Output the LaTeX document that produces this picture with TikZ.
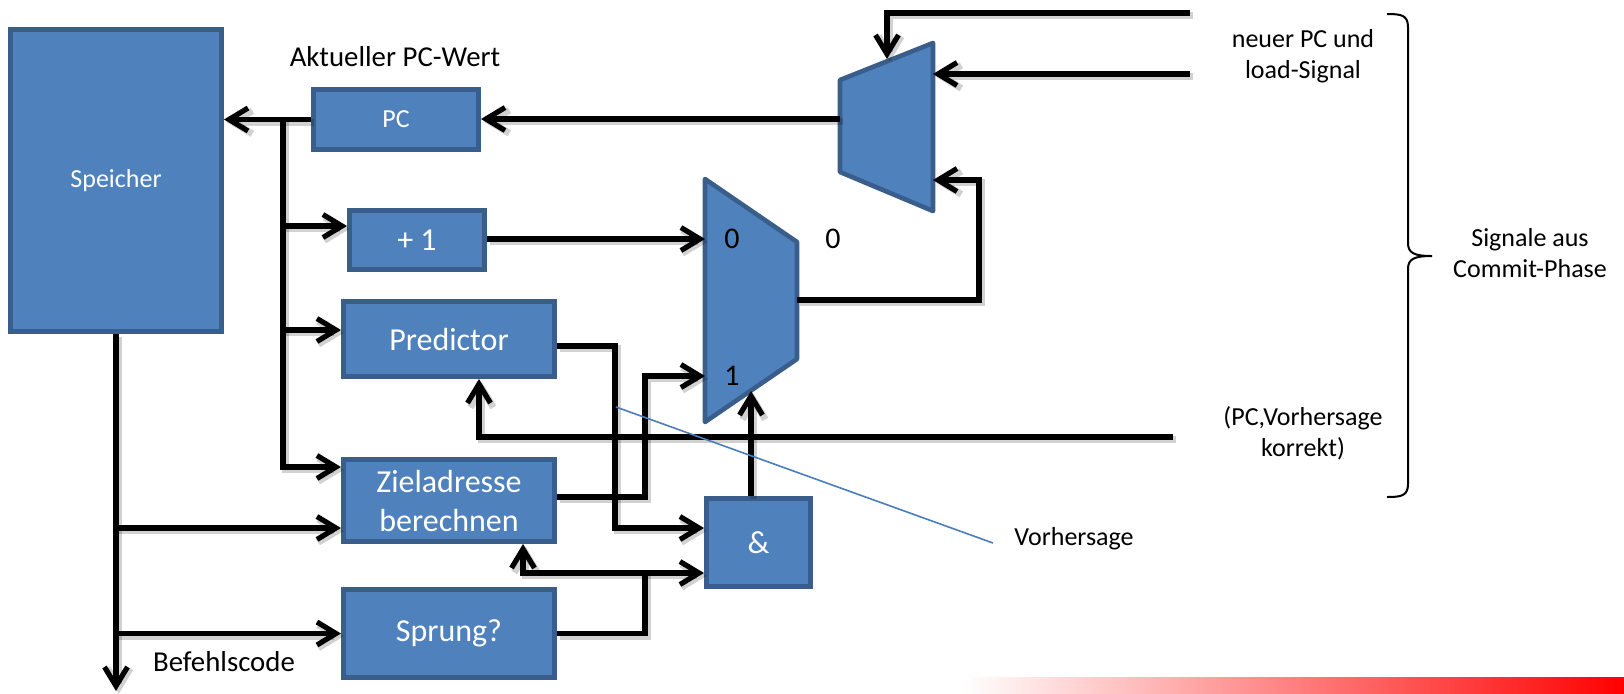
\documentclass[tikz,border=0pt]{standalone}
\usepackage{fontspec}
\setmainfont{Carlito}
\usetikzlibrary{arrows.meta}
\definecolor{boxfill}{RGB}{79,129,189}
\definecolor{boxline}{RGB}{58,94,139}
\definecolor{calloutblue}{RGB}{74,126,187}
\begin{document}
\begin{tikzpicture}[x=0.5pt,y=-0.5pt,
  blk/.style={draw=boxline, fill=boxfill, line width=2.3pt, inner sep=0pt,
    text=white, align=center, font=\fontsize{16}{19.5}\selectfont},
  smallblk/.style={blk, font=\fontsize{13}{15}\selectfont},
  muxshape/.style={draw=boxline, fill=boxfill, line width=2.3pt, line join=round},
  wire/.style={line width=2.6pt,
    preaction={draw=black, opacity=0.18, line width=3.4pt,
      transform canvas={shift={(1.4pt,-1.4pt)}}}},
  arr/.style={wire, -{Straight Barb[length=9.5pt,width=11.5pt]}},
  lbl/.style={inner sep=0pt, align=center, font=\fontsize{13}{15.5}\selectfont},
  biglbl/.style={inner sep=0pt, align=center, font=\fontsize{14.4}{17}\selectfont},
  digit/.style={inner sep=0pt, font=\fontsize{15}{18}\selectfont}]
\useasboundingbox (0,0) rectangle (1624,693);

% decorative colour bar
\shade[left color=white, right color=red] (962,677) rectangle (1624,693);

% functional blocks
\node[smallblk, minimum width=105.7pt, minimum height=151.2pt] (spe) at (116,180.5) {Speicher};
\node[smallblk, minimum width=82.7pt, minimum height=30.2pt] (pc) at (396,119.5) {PC};
\node[blk, minimum width=67.7pt, minimum height=29.7pt] (plus) at (417,240) {+ 1};
\node[blk, minimum width=105.7pt, minimum height=37.7pt] (pred) at (449,339) {Predictor};
\node[blk, minimum width=105.7pt, minimum height=41.2pt] (zie) at (449,500.5) {Zieladresse\\berechnen};
\node[blk, minimum width=105.7pt, minimum height=44.2pt] (spr) at (449,633.5) {Sprung?};
\node[blk, minimum width=52.2pt, minimum height=44.2pt] (and) at (758.5,542.5) {\&};

% multiplexers
\draw[muxshape] (705,179) -- (797,242) -- (797,359) -- (705,422) -- cycle;
\draw[muxshape] (840,80) -- (933,43) -- (933,211) -- (840,172) -- cycle;
\coordinate (m1a) at (705,239);
\coordinate (m1b) at (705,376);
\coordinate (m1s) at (751,391);
\coordinate (m1o) at (797,300);
\coordinate (m2a) at (887,59);
\coordinate (m2b) at (933,74);
\coordinate (m2c) at (933,180);
\coordinate (m2o) at (840,119);
\node[digit] (d0) at (732,239) {0};
\node[digit] (d1) at (732,376) {1};
\node[digit] (d0o) at (833,239) {0};

% labels
\node[biglbl] (pcwert) at (395,57) {Aktueller PC-Wert};
\node[biglbl] (bcode) at (224,662) {Befehlscode};
\node[lbl] (neu) at (1303,56) {neuer PC und\\load-Signal};
\node[lbl] (korr) at (1303,433) {(PC,Vorhersage\\korrekt)};
\node[lbl] (commit) at (1530,253) {Signale aus\\Commit-Phase};
\node[lbl, anchor=west] (vlbl) at (1014,539) {Vorhersage};

% PC to memory and fan-out of the current PC
\draw[arr] (pc.west) -- (pc.west -| spe.east);
\coordinate (tap) at (283,119.5);
\coordinate (tA) at (283,226);
\coordinate (tB) at (283,330);
\coordinate (tC) at (283,467);
\draw[arr] (tap) |- (tC -| zie.west);
\draw[arr] (tA) -- (tA -| plus.west);
\draw[arr] (tB) -- (tB -| pred.west);

% instruction code bus
\coordinate (bus) at (116,691);
\coordinate (bA) at (116,528);
\coordinate (bB) at (116,633.5);
\draw[arr] (spe.south) -- (bus);
\draw[arr] (bA) -- (bA -| zie.west);
\draw[arr] (bB) -- (spr.west);

% next-PC datapath
\draw[arr] (m1a -| plus.east) -- (m1a);
\coordinate (pK) at (615,528);
\draw[arr] ([yshift=-3.5pt]pred.east) -| (pK) -- (pK -| and.west);
\coordinate (zK) at (645,376);
\draw[arr] ([yshift=1.75pt]zie.east) -| (zK) -- (m1b);
\coordinate (sK) at (645,573);
\coordinate (sL) at (523,573);
\draw[wire] (spr.east) -| (sK);
\draw[arr] (sK) -- (sK -| and.west);
\draw[arr] (sK) -- (sL) -- (sL |- zie.south);
\draw[arr] (m1s |- and.north) -- (m1s);
\coordinate (fK) at (979,180);
\draw[arr] (m1o) -| (fK) -- (m2c);
\draw[arr] (m2o) -- (m2o -| pc.east);

% signals from the commit phase
\coordinate (cA) at (1190,13);
\coordinate (cB) at (1190,74);
\coordinate (cC) at (1173,437);
\draw[arr] (cA) -| (m2a);
\draw[arr] (cB) -- (m2b);
\draw[arr] (cC) -| ([xshift=15pt]pred.south);

% callout for the prediction wire
\coordinate (vA) at (616,407);
\coordinate (vB) at (993,543);
\draw[calloutblue, line width=0.8pt] (vA) -- (vB);

% brace grouping the commit signals
\draw[line width=1pt] (1387,14) .. controls (1401,14) and (1408,15) .. (1408,27)
  -- (1408,243) .. controls (1408,253) and (1414,256) .. (1432,256)
  .. controls (1414,256) and (1408,259) .. (1408,269)
  -- (1408,484) .. controls (1408,496) and (1401,497) .. (1387,497);
\end{tikzpicture}
\end{document}
